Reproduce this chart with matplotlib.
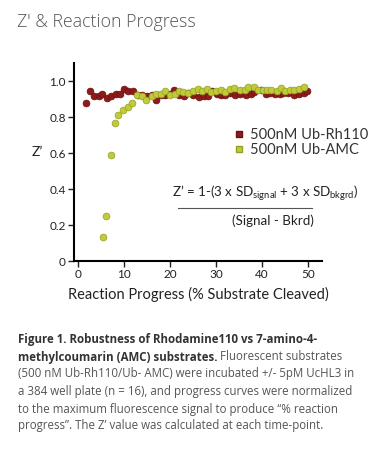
import matplotlib
matplotlib.use('Agg')
import matplotlib.pyplot as plt
from matplotlib.lines import Line2D

# Z' values, Ub-Rh110 series
rh_x = [1.7, 2.7, 3.6, 4.5, 5.3, 6.3, 7.2, 8.2, 9.1, 10.0, 11.0, 12.0, 13.0,
        14.0, 15.0, 16.0, 16.9, 18.0, 19.0, 20.0, 20.8, 21.9, 23.0, 23.9,
        25.1, 26.2, 27.3, 28.2, 29.2, 30.2, 31.1, 32.0, 33.1, 34.2, 35.3,
        36.5, 37.6, 38.3, 39.8, 40.9, 41.8, 42.8, 43.9, 44.6, 45.7, 46.9,
        47.9, 49.0, 49.7]
rh_y = [0.877, 0.945, 0.917, 0.917, 0.926, 0.908, 0.917, 0.926, 0.926, 0.957,
        0.945, 0.945, 0.92, 0.925, 0.915, 0.925, 0.895, 0.92, 0.925, 0.93,
        0.95, 0.92, 0.917, 0.935, 0.925, 0.913, 0.917, 0.917, 0.945, 0.93,
        0.92, 0.925, 0.935, 0.92, 0.926, 0.92, 0.926, 0.939, 0.95, 0.926,
        0.935, 0.93, 0.926, 0.935, 0.932, 0.92, 0.93, 0.935, 0.945]

# Ub-AMC series
amc_x = [5.4, 6.2, 7.2, 8.1, 8.8, 9.9, 11.0, 11.8, 12.9, 14.0, 14.9, 16.0,
         16.9, 18.0, 18.9, 20.0, 21.0, 22.0, 22.9, 23.9, 25.0, 26.0, 27.0,
         28.1, 29.0, 30.0, 31.0, 32.0, 33.1, 34.0, 35.3, 36.3, 37.0, 38.2,
         39.1, 40.1, 41.0, 42.0, 43.2, 44.1, 44.9, 46.1, 47.0, 48.0, 49.1]
amc_y = [0.133, 0.25, 0.587, 0.768, 0.81, 0.838, 0.858, 0.877, 0.924, 0.915,
         0.897, 0.917, 0.926, 0.926, 0.945, 0.92, 0.926, 0.945, 0.94, 0.932,
         0.945, 0.957, 0.945, 0.957, 0.94, 0.945, 0.95, 0.94, 0.955, 0.96,
         0.95, 0.948, 0.965, 0.968, 0.95, 0.95, 0.95, 0.95, 0.945, 0.962,
         0.945, 0.95, 0.95, 0.955, 0.968]

series_labels = ['500nM Ub-Rh110', '500nM Ub-AMC']
xticks = [0, 10, 20, 30, 40, 50]
yticks = [0, 0.2, 0.4, 0.6, 0.8, 1.0]
ytick_labels = ['0', '0.2', '0.4', '0.6', '0.8', '1.0']

red, red_edge = '#8e1a1a', '#6a1010'
yel, yel_edge = '#bfcb3a', '#959f22'

plt.rcParams['font.family'] = ['Lato', 'DejaVu Sans']
plt.rcParams['mathtext.fontset'] = 'custom'
plt.rcParams['mathtext.rm'] = 'Lato'

fig = plt.figure(figsize=(3.82, 4.5), dpi=100)
ax = fig.add_axes([0.194, 0.42, 0.649, 0.44])

ax.scatter(rh_x, rh_y, s=24, c=red, edgecolors=red_edge, linewidths=0.5, zorder=3)
ax.scatter(amc_x, amc_y, s=24, c=yel, edgecolors=yel_edge, linewidths=0.5, zorder=4)

ax.set_xlim(-0.8, 53)
ax.set_ylim(0, 1.1)
ax.set_xticks(xticks)
ax.set_yticks(yticks)
ax.set_yticklabels(ytick_labels)
for s in ['top', 'right']:
    ax.spines[s].set_visible(False)
for s in ['left', 'bottom']:
    ax.spines[s].set_linewidth(1.5)
ax.tick_params(direction='out', length=4, width=1, labelsize=8.5, colors='#222222', pad=2)

ax.set_xlabel('Reaction Progress (% Substrate Cleaved)', fontsize=10.5, color='#222222', labelpad=5)
fig.text(0.097, 1 - 152 / 450, 'Z’', fontsize=10, color='#222222', ha='center', va='center')

# legend with square markers
handles = [Line2D([], [], ls='', marker='s', ms=5, mfc=red, mec=red_edge),
           Line2D([], [], ls='', marker='s', ms=5, mfc=yel, mec=yel_edge)]
fig.legend(handles, series_labels, loc='upper left', frameon=False,
           bbox_to_anchor=(0.598, 1 - 122 / 450), fontsize=10.5,
           handlelength=0.6, handletextpad=0.45, labelspacing=0.1,
           labelcolor='#333333', borderaxespad=0)

# Z' formula
fig.text(172 / 382, 1 - 193 / 450,
         r"Z’ = 1-(3 x SD$_{\mathrm{signal}}$ + 3 x SD$_{\mathrm{bkgrd}}$)",
         fontsize=9.6, color='#222222', ha='left', va='center')
fig.add_artist(Line2D([178 / 382, 312 / 382], [1 - 208 / 450, 1 - 208 / 450],
                      color='#555555', lw=0.8))
fig.text(273 / 382, 1 - 221 / 450, '(Signal - Bkrd)', fontsize=9.6,
         color='#222222', ha='center', va='center')

# title
fig.text(17 / 382, 1 - 22 / 450, "Z' & Reaction Progress", fontsize=12.8,
         color='#555555', family='Open Sans', weight='light', ha='left', va='center')

# caption
cap = dict(fontsize=8.3, family='Open Sans', va='center', ha='left')
x0 = 18 / 382
ys = [340, 357, 374, 391, 409, 426]
fig.text(x0, 1 - ys[0] / 450, 'Figure 1. Robustness of Rhodamine110 vs 7-amino-4-',
         weight='bold', color='#333333', **cap)
b = fig.text(x0, 1 - ys[1] / 450, 'methylcoumarin (AMC) substrates.',
             weight='bold', color='#333333', **cap)
fig.canvas.draw()
bb = b.get_window_extent(fig.canvas.get_renderer())
fig.text(bb.x1 / fig.bbox.width, 1 - ys[1] / 450, ' Fluorescent substrates',
         color='#555555', **cap)
rest = ['(500 nM Ub-Rh110/Ub- AMC) were incubated +/- 5pM UcHL3 in',
        'a 384 well plate (n = 16), and progress curves were normalized',
        'to the maximum fluorescence signal to produce “% reaction',
        'progress”. The Z’ value was calculated at each time-point.']
for line, yy in zip(rest, ys[2:]):
    fig.text(x0, 1 - yy / 450, line, color='#555555', **cap)

fig.savefig('out.png', dpi=100)
